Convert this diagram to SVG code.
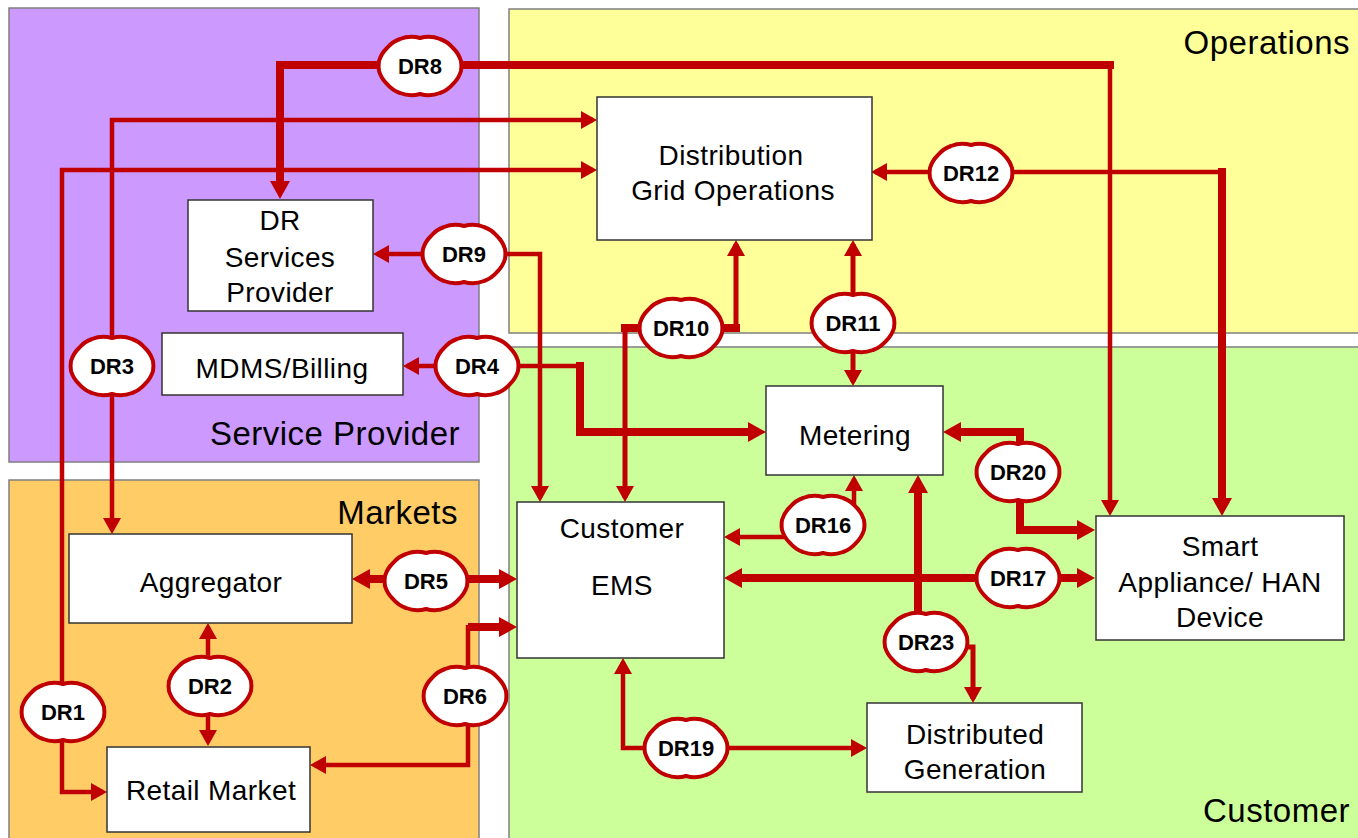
<svg xmlns="http://www.w3.org/2000/svg" xmlns:xlink="http://www.w3.org/1999/xlink" width="1358" height="838" viewBox="0 0 1358 838">
<style>
.reg{stroke:#7f7f7f;stroke-width:1.5}
.node{fill:#fff;stroke:#333;stroke-width:1.5}
.nt{font-family:"Liberation Sans",Arial,sans-serif;font-size:28px;fill:#000;text-anchor:middle;letter-spacing:0.4px}
.rt{font-family:"Liberation Sans",Arial,sans-serif;font-size:33px;fill:#000;text-anchor:end;letter-spacing:0.5px}
.t{fill:none;stroke:#C00000;stroke-width:4.5}
.T{fill:none;stroke:#C00000;stroke-width:8}
.m{fill:none;stroke:#C00000;stroke-width:5}
.lt{font-family:"Liberation Sans",Arial,sans-serif;font-size:22px;font-weight:bold;fill:#000;text-anchor:middle}
</style>
<defs>
<marker id="as" viewBox="0 0 16 18" refX="12" refY="9" markerWidth="16" markerHeight="18" markerUnits="userSpaceOnUse" orient="auto-start-reverse"><path d="M0,0L16,9L0,18z" fill="#C00000"/></marker>
<marker id="ab" viewBox="0 0 18 20" refX="11" refY="10" markerWidth="18" markerHeight="20" markerUnits="userSpaceOnUse" orient="auto-start-reverse"><path d="M0,0L18,10L0,20z" fill="#C00000"/></marker>
<path id="cloud" d="M-20,-27 A30,30 0 0 1 0,-28 A30,30 0 0 1 20,-27 A30,30 0 0 1 33,-18 A30,30 0 0 1 41,-5 A30,30 0 0 1 41,5 A30,30 0 0 1 33,18 A30,30 0 0 1 20,27 A30,30 0 0 1 0,28 A30,30 0 0 1 -20,27 A30,30 0 0 1 -33,18 A30,30 0 0 1 -41,5 A30,30 0 0 1 -41,-5 A30,30 0 0 1 -33,-18 A30,30 0 0 1 -20,-27 Z" fill="#fff" stroke="#C00000" stroke-width="4"/>
</defs>
<rect width="1358" height="838" fill="#fff"/>
<g id="regions">
<rect class="reg" x="9" y="8" width="470" height="454" fill="#CC99FF"/>
<rect class="reg" x="9" y="480" width="470" height="362" fill="#FFCC66"/>
<rect class="reg" x="509" y="9" width="853" height="324" fill="#FFFF99"/>
<rect class="reg" x="509" y="347" width="853" height="495" fill="#CCFF99"/>
<text class="rt" x="1350" y="54">Operations</text>
<text class="rt" x="460" y="445">Service Provider</text>
<text class="rt" x="458" y="524">Markets</text>
<text class="rt" x="1350" y="822">Customer</text>
</g>
<g id="connectors">
<path class="T" d="M1114,65 H280 V192" marker-end="url(#ab)"/>
<path class="t" d="M1110,65 V512" marker-end="url(#as)"/>
<path class="t" d="M112,530 V120 H593" marker-start="url(#as)" marker-end="url(#as)"/>
<path class="t" d="M593,170 H62 V792 H103" marker-start="url(#as)" marker-end="url(#as)"/>
<path class="t" d="M377,254 H540 V498" marker-start="url(#as)" marker-end="url(#as)"/>
<path class="t" d="M407,366 H582" marker-start="url(#as)"/>
<path class="T" d="M580,362 V432 H759" marker-end="url(#ab)"/>
<path class="m" d="M625,498 V328 H736 V244" marker-start="url(#as)" marker-end="url(#as)"/>
<path class="T" d="M621,328 H650 M715,328 H740"/>
<path class="m" d="M853,244 V382" marker-start="url(#as)" marker-end="url(#as)"/>
<path class="t" d="M875,172 H1224" marker-start="url(#as)"/>
<path class="T" d="M1222,168 V509" marker-end="url(#ab)"/>
<path class="T" d="M950,432 H1020 V530 H1088" marker-start="url(#ab)" marker-end="url(#ab)"/>
<path class="t" d="M728,537 H800" marker-start="url(#as)"/>
<path class="t" d="M854,512 V479" marker-end="url(#as)"/>
<path class="T" d="M731,578 H1088" marker-start="url(#ab)" marker-end="url(#ab)"/>
<path class="T" d="M918,482 V625" marker-start="url(#ab)"/>
<path class="m" d="M955,647 H973 V699" marker-end="url(#as)"/>
<path class="t" d="M623,662 V748 H863" marker-start="url(#as)" marker-end="url(#as)"/>
<path class="T" d="M359,579 H510" marker-start="url(#ab)" marker-end="url(#ab)"/>
<path class="T" d="M468,627 H510" marker-end="url(#ab)"/>
<path class="t" d="M468,625 V765 H314" marker-end="url(#as)"/>
<path class="t" d="M208,627 V742" marker-start="url(#as)" marker-end="url(#as)"/>
</g>
<g id="labels">
<g id="dr8"><use xlink:href="#cloud" x="420" y="66"/><text class="lt" x="420" y="74">DR8</text></g>
<g id="dr3"><use xlink:href="#cloud" x="112" y="366"/><text class="lt" x="112" y="374">DR3</text></g>
<g id="dr9"><use xlink:href="#cloud" x="464" y="254"/><text class="lt" x="464" y="262">DR9</text></g>
<g id="dr4"><use xlink:href="#cloud" x="477" y="366"/><text class="lt" x="477" y="374">DR4</text></g>
<g id="dr10"><use xlink:href="#cloud" x="681" y="328"/><text class="lt" x="681" y="336">DR10</text></g>
<g id="dr11"><use xlink:href="#cloud" x="853" y="323"/><text class="lt" x="853" y="331">DR11</text></g>
<g id="dr12"><use xlink:href="#cloud" x="971" y="173"/><text class="lt" x="971" y="181">DR12</text></g>
<g id="dr20"><use xlink:href="#cloud" x="1018" y="472"/><text class="lt" x="1018" y="480">DR20</text></g>
<g id="dr16"><use xlink:href="#cloud" x="823" y="525"/><text class="lt" x="823" y="533">DR16</text></g>
<g id="dr17"><use xlink:href="#cloud" x="1018" y="578"/><text class="lt" x="1018" y="586">DR17</text></g>
<g id="dr23"><use xlink:href="#cloud" x="926" y="642"/><text class="lt" x="926" y="650">DR23</text></g>
<g id="dr19"><use xlink:href="#cloud" x="686" y="748"/><text class="lt" x="686" y="756">DR19</text></g>
<g id="dr5"><use xlink:href="#cloud" x="426" y="581"/><text class="lt" x="426" y="589">DR5</text></g>
<g id="dr6"><use xlink:href="#cloud" x="465" y="696"/><text class="lt" x="465" y="704">DR6</text></g>
<g id="dr2"><use xlink:href="#cloud" x="210" y="686"/><text class="lt" x="210" y="694">DR2</text></g>
<g id="dr1"><use xlink:href="#cloud" x="63" y="712"/><text class="lt" x="63" y="720">DR1</text></g>
</g>
<g id="dgo"><rect class="node" x="597" y="97" width="275" height="143"/><text class="nt" x="731" y="165">Distribution</text><text class="nt" x="733" y="200">Grid Operations</text></g>
<g id="drsp"><rect class="node" x="188" y="200" width="185" height="111"/><text class="nt" x="280" y="230">DR</text><text class="nt" x="280" y="267">Services</text><text class="nt" x="280" y="302">Provider</text></g>
<g id="mdms"><rect class="node" x="162" y="333" width="241" height="62"/><text class="nt" x="282" y="378">MDMS/Billing</text></g>
<g id="aggregator"><rect class="node" x="69" y="534" width="283" height="89"/><text class="nt" x="211" y="592">Aggregator</text></g>
<g id="retail"><rect class="node" x="107" y="747" width="203" height="85"/><text class="nt" x="211" y="800">Retail Market</text></g>
<g id="ems"><rect class="node" x="517" y="502" width="207" height="156"/><text class="nt" x="622" y="538">Customer</text><text class="nt" x="622" y="595">EMS</text></g>
<g id="metering"><rect class="node" x="766" y="386" width="177" height="89"/><text class="nt" x="855" y="445">Metering</text></g>
<g id="smart"><rect class="node" x="1096" y="516" width="248" height="124"/><text class="nt" x="1220" y="556">Smart</text><text class="nt" x="1220" y="592">Appliance/ HAN</text><text class="nt" x="1220" y="627">Device</text></g>
<g id="dg"><rect class="node" x="867" y="703" width="215" height="89"/><text class="nt" x="975" y="744">Distributed</text><text class="nt" x="975" y="779">Generation</text></g>
</svg>
